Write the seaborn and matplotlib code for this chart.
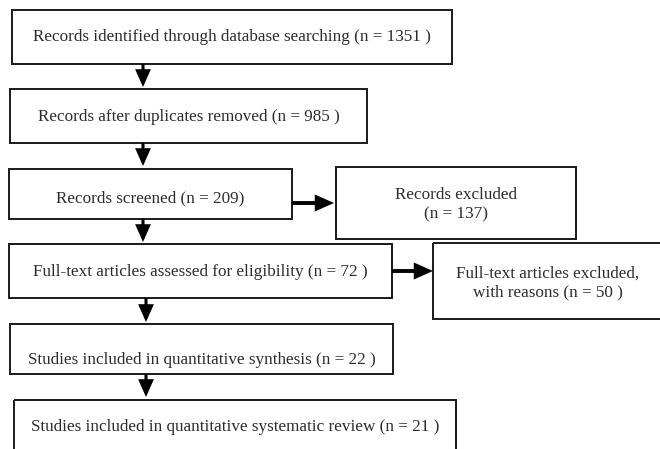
import matplotlib
matplotlib.use('Agg')
import matplotlib.pyplot as plt
import seaborn as sns
from matplotlib.patches import Rectangle

# PRISMA flow: box texts and counts
stages = [
    "Records identified through database searching (n = 1351 )",
    "Records after duplicates removed (n = 985 )",
    "Records screened (n = 209)",
    "Records excluded\n(n = 137)",
    "Full-text articles assessed for eligibility (n = 72 )",
    "Full-text articles excluded,\nwith reasons (n = 50 )",
    "Studies included in quantitative synthesis (n = 22 )",
    "Studies included in quantitative systematic review (n = 21 )",
]
counts = [1351, 985, 209, 137, 72, 50, 22, 21]

# layout in pixel units (x0, y0, x1, y1) and text y
boxes = [
    (12, 10, 452, 64, 37),
    (10, 89, 367, 143, 117),
    (9, 169, 292, 219, 198),
    (336, 167, 576, 239, 205),
    (9, 244, 392, 298, 272),
    (433, 243, 662, 319, 283),
    (10, 324, 393, 374, 360),
    (14, 400, 456, 470, 427),
]
# (x_start, y_start, x_end, y_end, linewidth)
arrows = [
    (143, 64, 143, 87, 2.2),
    (143, 143, 143, 166, 2.2),
    (143, 219, 143, 242, 2.2),
    (146, 298, 146, 322, 2.2),
    (146, 374, 146, 397, 2.2),
    (292, 203, 334, 203, 2.8),
    (392, 271, 433, 271, 2.8),
]

sns.set_theme(style="white")
plt.rcParams['font.family'] = ['Liberation Serif', 'DejaVu Serif']

fig = plt.figure(figsize=(6.6, 4.49), dpi=100)
ax = fig.add_axes([0, 0, 1, 1])
ax.set_xlim(0, 660)
ax.set_ylim(449, 0)
ax.axis('off')

for (x0, y0, x1, y1, ty), label in zip(boxes, stages):
    ax.add_patch(Rectangle((x0, y0), x1 - x0, y1 - y0, fill=False,
                           edgecolor="#1a1a1a", linewidth=1.4))
    ax.text((x0 + x1) / 2, ty, label, ha="center", va="center",
            fontsize=12.3, color="#2b2b2b", linespacing=1.3)

for xs, ys, xe, ye, lw in arrows:
    ax.annotate("", xy=(xe, ye), xytext=(xs, ys),
                arrowprops=dict(arrowstyle="-|>,head_length=0.9,head_width=0.4",
                                mutation_scale=10, lw=lw, color="black",
                                shrinkA=0, shrinkB=0, joinstyle="miter",
                                capstyle="butt"))

fig.savefig("out.png", dpi=100, facecolor="white")
plt.close(fig)
